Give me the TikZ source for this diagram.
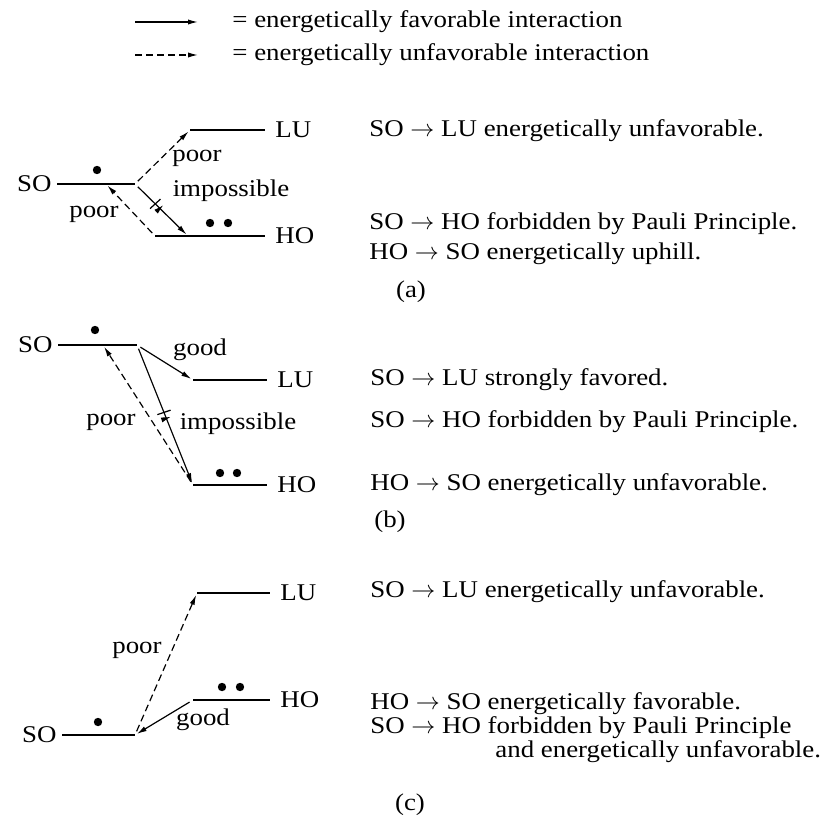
\documentclass[tikz,border=0pt]{standalone}
\usepackage{fontspec}
\setmainfont{Liberation Serif}[FakeStretch=1.12]
\usetikzlibrary{arrows.meta,decorations.markings}

\begin{document}
\begin{tikzpicture}[x=0.5pt,y=-0.5pt,
    font=\fontsize{12}{12}\selectfont,
    level/.style={line width=0.8pt},
    fav/.style={-{Latex[length=5pt,width=2.6pt]}, line width=0.6pt, shorten <=2pt, shorten >=1pt},
    unfav/.style={fav, dash pattern=on 3.5pt off 2pt},
    blocked/.style={postaction=decorate, decoration={markings, mark=at position #1 with {
        \draw[line width=0.6pt] (-1.6pt,-3.5pt) -- (-1.2pt,3.5pt) (1.6pt,-3.5pt) -- (2pt,3.5pt);}}},
    electron/.style={circle, fill, inner sep=0pt, minimum size=4.2pt},
    txt/.style={anchor=west, inner sep=0pt},
    lbl/.style={inner sep=0pt}]
    \useasboundingbox (0,0) rectangle (840,818);

    % legend
    \coordinate (fav0) at (135,22);
    \coordinate (fav1) at (200,22);
    \coordinate (unfav0) at (135,55);
    \coordinate (unfav1) at (200,55);
    \draw[fav, shorten <=0pt] (fav0) -- (fav1);
    \draw[unfav, shorten <=0pt] (unfav0) -- (unfav1);
    \node[txt] (favtext) at (232,22) {= energetically favorable interaction};
    \node[txt] (unfavtext) at (232,55) {= energetically unfavorable interaction};

    % (a)
    \coordinate (aSOl) at (57,184);  \coordinate (aSOr) at (135,184);
    \coordinate (aLUl) at (190,130); \coordinate (aLUr) at (265,130);
    \coordinate (aHOl) at (155,236); \coordinate (aHOr) at (265,236);
    \coordinate (aHOin) at (188,236); \coordinate (aSOin) at (106,184);
    \draw[level] (aSOl) -- (aSOr);
    \draw[level] (aLUl) -- (aLUr);
    \draw[level] (aHOl) -- (aHOr);
    \node[anchor=east, inner sep=2.5pt] (aSO) at (aSOl) {SO};
    \node[anchor=west, inner sep=5pt] (aLU) at (aLUr) {LU};
    \node[anchor=west, inner sep=5pt] (aHO) at (aHOr) {HO};
    \node[electron] (aSOe) at (97,170) {};
    \node[electron] (aHOe1) at (210,223) {};
    \node[electron] (aHOe2) at (228,223) {};
    \draw[unfav] (aSOr) -- (aLUl);
    \draw[fav, blocked=0.42] (aSOr) -- (aHOin);
    \draw[unfav] (aHOl) -- (aSOin);
    \node[lbl] (aSOLU) at (197,158) {poor};
    \node[lbl] (aSOHO) at (231,191) {impossible};
    \node[lbl] (aHOSO) at (94,214) {poor};
    \node[txt] (aline1) at (369,131) {SO $\rightarrow$ LU energetically unfavorable.};
    \node[txt] (aline2) at (369,224) {SO $\rightarrow$ HO forbidden by Pauli Principle.};
    \node[txt] (aline3) at (369,254) {HO $\rightarrow$ SO energetically uphill.};
    \node[lbl] (acap) at (411,292) {(a)};

    % (b)
    \coordinate (bSOl) at (58,345);  \coordinate (bSOr) at (137,345);
    \coordinate (bLUl) at (193,380); \coordinate (bLUr) at (267,380);
    \coordinate (bHOl) at (193,485); \coordinate (bHOr) at (267,485);
    \coordinate (bSOin) at (103,345);
    \draw[level] (bSOl) -- (bSOr);
    \draw[level] (bLUl) -- (bLUr);
    \draw[level] (bHOl) -- (bHOr);
    \node[anchor=east, inner sep=2.5pt] (bSO) at (bSOl) {SO};
    \node[anchor=west, inner sep=5pt] (bLU) at (bLUr) {LU};
    \node[anchor=west, inner sep=5pt] (bHO) at (bHOr) {HO};
    \node[electron] (bSOe) at (95,330) {};
    \node[electron] (bHOe1) at (220,473) {};
    \node[electron] (bHOe2) at (237,473) {};
    \draw[fav] (bSOr) -- (bLUl);
    \draw[fav, blocked=0.5] (bSOr) -- (bHOl);
    \draw[unfav] (bHOl) -- (bSOin);
    \node[lbl] (bSOLU) at (200,350) {good};
    \node[lbl] (bSOHO) at (238,424) {impossible};
    \node[lbl] (bHOSO) at (111,422) {poor};
    \node[txt] (bline1) at (370,380) {SO $\rightarrow$ LU strongly favored.};
    \node[txt] (bline2) at (370,422) {SO $\rightarrow$ HO forbidden by Pauli Principle.};
    \node[txt] (bline3) at (370,485) {HO $\rightarrow$ SO energetically unfavorable.};
    \node[lbl] (bcap) at (390,522) {(b)};

    % (c)
    \coordinate (cSOl) at (62,735);  \coordinate (cSOr) at (135,735);
    \coordinate (cLUl) at (197,593); \coordinate (cLUr) at (270,593);
    \coordinate (cHOl) at (193,700); \coordinate (cHOr) at (270,700);
    \draw[level] (cSOl) -- (cSOr);
    \draw[level] (cLUl) -- (cLUr);
    \draw[level] (cHOl) -- (cHOr);
    \node[anchor=east, inner sep=2.5pt] (cSO) at (cSOl) {SO};
    \node[anchor=west, inner sep=5pt] (cLU) at (cLUr) {LU};
    \node[anchor=west, inner sep=5pt] (cHO) at (cHOr) {HO};
    \node[electron] (cSOe) at (98,722) {};
    \node[electron] (cHOe1) at (222,687) {};
    \node[electron] (cHOe2) at (240,687) {};
    \draw[unfav] (cSOr) -- (cLUl);
    \draw[fav] (cHOl) -- (cSOr);
    \node[lbl] (cSOLU) at (137,650) {poor};
    \node[lbl] (cHOSO) at (203,720) {good};
    \node[txt] (cline1) at (370,592) {SO $\rightarrow$ LU energetically unfavorable.};
    \node[txt, anchor=north west, align=left] (cline2) at (370,692) {HO $\rightarrow$ SO energetically favorable.\\
        SO $\rightarrow$ HO forbidden by Pauli Principle\\
        \hspace*{62.5pt}and energetically unfavorable.};
    \node[lbl] (ccap) at (410,805) {(c)};
\end{tikzpicture}
\end{document}
